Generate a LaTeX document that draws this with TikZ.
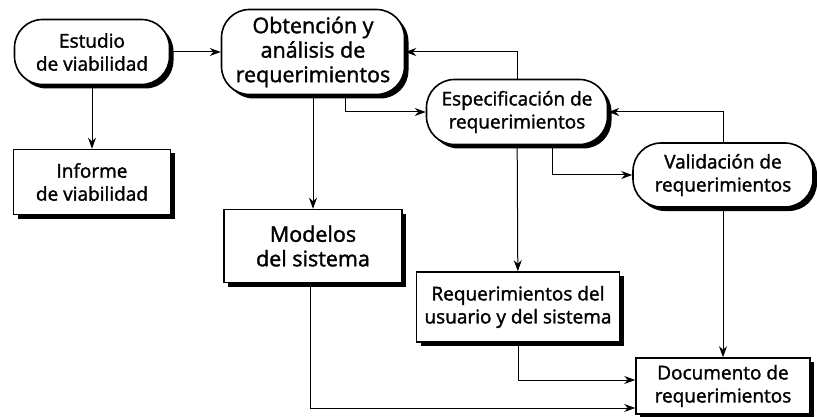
\documentclass[tikz,border=0pt]{standalone}
\usepackage{fontspec}
\setmainfont{Open Sans}[FakeBold=1.6]
\usetikzlibrary{arrows.meta,shadows,positioning}

\begin{document}
\begin{tikzpicture}[
        x=1pt, y=-1pt,
        every node/.style={font=\fontsize{19}{23}\selectfont, align=center},
        big text/.style={font=\fontsize{21.5}{24.5}\selectfont},
        phase/.style={draw, line width=1.6pt, fill=white, rounded corners=28pt, inner sep=2pt,
            drop shadow={shadow xshift=4pt, shadow yshift=-4pt, fill=black, opacity=1}},
        product/.style={draw, line width=1.6pt, fill=white, inner sep=2pt,
            drop shadow={shadow xshift=4pt, shadow yshift=-4pt, fill=black, opacity=1}},
        flow/.style={line width=1pt, -{Stealth[length=11pt, width=8pt]}}
    ]
    \useasboundingbox (0,0) rectangle (817,417);
    % phases
    \node[phase, minimum width=155pt, minimum height=65pt] (estudio) at (92,52) {Estudio\\de viabilidad};
    \node[phase, big text, minimum width=183pt, minimum height=85pt] (obtencion) at (313,52) {Obtención y\\análisis de\\requerimientos};
    \node[phase, minimum width=181pt, minimum height=65pt] (espec) at (517,112) {Especificación de\\requerimientos};
    \node[phase, minimum width=180pt, minimum height=64pt] (valid) at (723,175) {Validación de\\requerimientos};
    % products
    \node[product, minimum width=157pt, minimum height=65pt] (informe) at (92,182) {Informe\\de viabilidad};
    \node[product, big text, minimum width=178pt, minimum height=73pt] (modelos) at (313,246) {Modelos\\del sistema};
    \node[product, minimum width=203pt, minimum height=70pt] (req) at (518,307) {Requerimientos del\\usuario y del sistema};
    \node[product, minimum width=174pt, minimum height=56pt] (doc) at (723,386) {Documento de\\requerimientos};
    % flows
    \draw[flow] (estudio) -- (obtencion);
    \draw[flow] (estudio) -- (informe);
    \draw[flow] (obtencion) -- (modelos);
    \draw[flow] ([xshift=32pt]obtencion.south) |- (espec.west);
    \draw[flow] (espec.north) |- (obtencion.east);
    \draw[flow] ([xshift=35pt]espec.south) |- (valid.west);
    \draw[flow] (valid.north) |- (espec.east);
    \draw[flow] (espec) -- (req);
    \draw[flow] (valid) -- (doc);
    \draw[flow] (req.south) |- ([yshift=6pt]doc.west);
    \draw[flow] ([xshift=-3pt]modelos.south) |- ([yshift=-22pt]doc.west);
\end{tikzpicture}
\end{document}
